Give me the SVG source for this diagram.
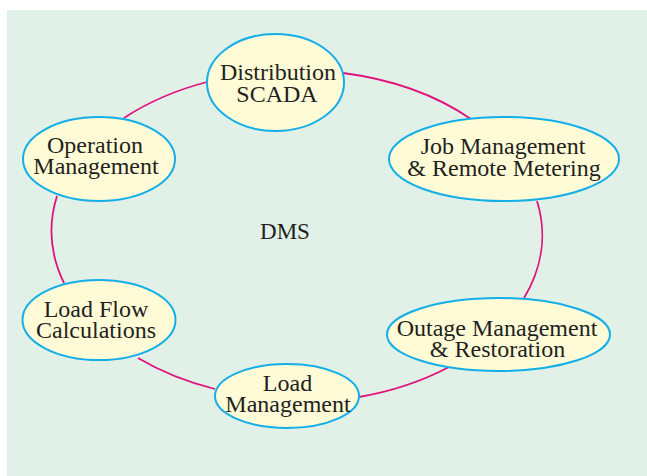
<svg xmlns="http://www.w3.org/2000/svg" width="647" height="476" viewBox="0 0 647 476">
<style>
.bg{fill:#e2f1e7}
.n{fill:#fffbd7;stroke:#14aee8;stroke-width:2}
.t{font-family:"Liberation Serif","Times New Roman",serif;font-size:24px;fill:#231f20;text-anchor:middle}
.c{fill:none;stroke:#e0137e;stroke-width:1.8}
</style>
<rect x="0" y="0" width="647" height="476" fill="#ffffff"/>
<rect class="bg" x="7" y="10" width="640" height="466"/>
<g id="connectors">
<path class="c" d="M343,73 A245,166 0 0 1 471,119"/>
<path class="c" d="M537,201 A245,166 0 0 1 524,298"/>
<path class="c" d="M449,367 A245,166 0 0 1 359,397"/>
<path class="c" d="M215,389 A245,166 0 0 1 138,358"/>
<path class="c" d="M64,283 A245,166 0 0 1 57,196"/>
<path class="c" d="M124,118 A245,166 0 0 1 207,82"/>
</g>
<g id="scada">
<ellipse class="n" cx="275.5" cy="82.5" rx="68.5" ry="48.5"/>
<text class="t" x="278" y="80">Distribution</text>
<text class="t" x="277" y="102">SCADA</text>
</g>
<g id="job">
<ellipse class="n" cx="504" cy="159" rx="115" ry="42"/>
<text class="t" x="503" y="154">Job Management</text>
<text class="t" x="504" y="176">&amp; Remote Metering</text>
</g>
<g id="outage">
<ellipse class="n" cx="498.5" cy="334.5" rx="111.5" ry="36.5"/>
<text class="t" x="497" y="336">Outage Management</text>
<text class="t" x="497.5" y="357">&amp; Restoration</text>
</g>
<g id="loadmgmt">
<ellipse class="n" cx="287" cy="396" rx="72" ry="32"/>
<text class="t" x="287.5" y="391">Load</text>
<text class="t" x="288" y="412">Management</text>
</g>
<g id="loadflow">
<ellipse class="n" cx="99" cy="320" rx="76.5" ry="40"/>
<text class="t" x="96" y="317">Load Flow</text>
<text class="t" x="96" y="338">Calculations</text>
</g>
<g id="operation">
<ellipse class="n" cx="99" cy="159" rx="76" ry="42"/>
<text class="t" x="95" y="153">Operation</text>
<text class="t" x="96" y="174">Management</text>
</g>
<g id="dms">
<text class="t" x="285" y="239" style="font-size:23px">DMS</text>
</g>
</svg>
